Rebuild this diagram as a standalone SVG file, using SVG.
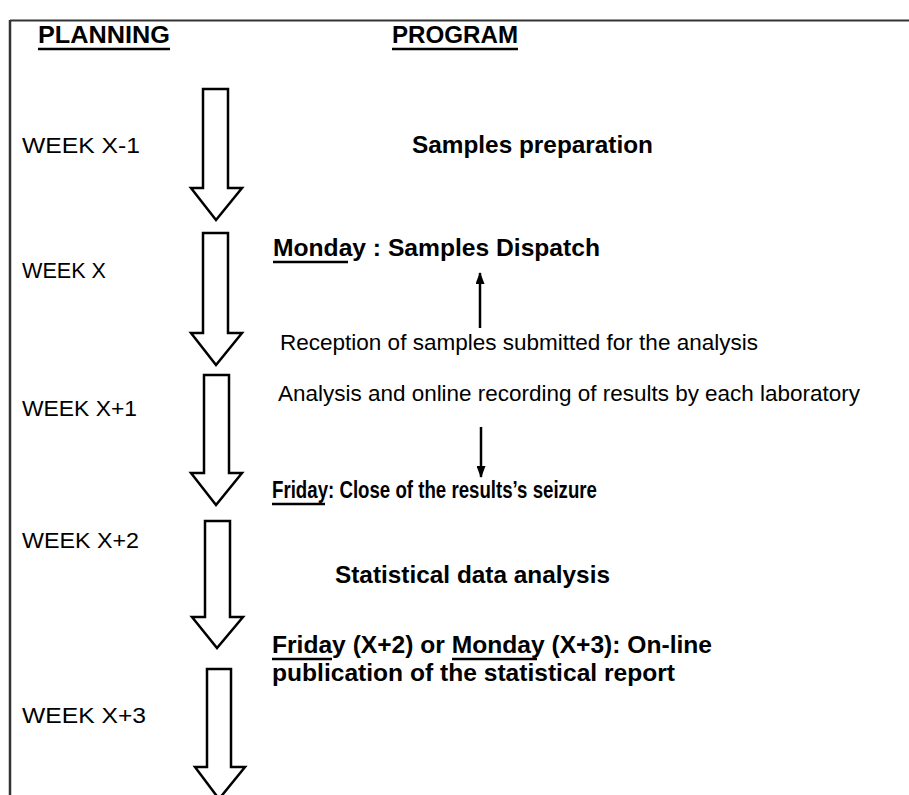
<svg xmlns="http://www.w3.org/2000/svg" width="909" height="795" viewBox="0 0 909 795">
<defs>
<style>
.bold{font-family:"Liberation Sans",Arial,sans-serif;font-weight:bold;font-size:24px;fill:#000}
.reg{font-family:"Liberation Sans",Arial,sans-serif;font-size:22.5px;fill:#000}
.head{font-family:"Liberation Sans",Arial,sans-serif;font-weight:bold;font-size:24px;fill:#000}
.week{font-family:"Liberation Sans",Arial,sans-serif;font-size:22px;fill:#000}
.blk{fill:#fff;stroke:#000;stroke-width:2.5;stroke-linejoin:miter}
.ul{stroke:#000;stroke-width:2.5}
.conn{stroke:#000;stroke-width:2.5;fill:none}
</style>
<marker id="ah" viewBox="0 0 12 9" refX="11" refY="4.5" markerWidth="12" markerHeight="9" orient="auto" markerUnits="userSpaceOnUse">
<path d="M0,0 L12,4.5 L0,9 Z" fill="#000"/>
</marker>
</defs>
<rect width="909" height="795" fill="#fff"/>
<g id="frame">
<line x1="10" y1="20.5" x2="909" y2="20.5" stroke="#333" stroke-width="2"/>
<line x1="10" y1="20" x2="10" y2="795" stroke="#333" stroke-width="2.5"/>
</g>
<g id="header-planning">
<text class="head" x="38" y="43" textLength="132" lengthAdjust="spacingAndGlyphs">PLANNING</text>
<line class="ul" x1="38" y1="49" x2="170" y2="49"/>
</g>
<g id="header-program">
<text class="head" x="392" y="43" textLength="126" lengthAdjust="spacingAndGlyphs">PROGRAM</text>
<line class="ul" x1="392" y1="49" x2="518" y2="49"/>
</g>
<g id="week-xm1"><text class="week" x="22" y="153" textLength="118" lengthAdjust="spacingAndGlyphs">WEEK X-1</text></g>
<g id="week-x"><text class="week" x="22" y="278" textLength="84" lengthAdjust="spacingAndGlyphs">WEEK X</text></g>
<g id="week-xp1"><text class="week" x="22" y="416" textLength="115" lengthAdjust="spacingAndGlyphs">WEEK X+1</text></g>
<g id="week-xp2"><text class="week" x="22" y="548" textLength="117" lengthAdjust="spacingAndGlyphs">WEEK X+2</text></g>
<g id="week-xp3"><text class="week" x="22" y="723" textLength="124" lengthAdjust="spacingAndGlyphs">WEEK X+3</text></g>
<g id="arrow-1"><polygon class="blk" points="203,89 228,89 228,188 242,188 216,220 191,188 203,188"/></g>
<g id="arrow-2"><polygon class="blk" points="203,233 228,233 228,333 242,333 216,365 191,333 203,333"/></g>
<g id="arrow-3"><polygon class="blk" points="204,375 229,375 229,473 242,473 216,505 191,473 204,473"/></g>
<g id="arrow-4"><polygon class="blk" points="205,521 230,521 230,617 243,617 217,648 192,617 205,617"/></g>
<g id="arrow-5"><polygon class="blk" points="207,669 231,669 231,767 245,767 219,799 195,767 207,767"/></g>
<g id="samples-preparation"><text class="bold" x="412" y="153" textLength="241" lengthAdjust="spacingAndGlyphs">Samples preparation</text></g>
<g id="samples-dispatch">
<text class="bold" x="273" y="256" textLength="327" lengthAdjust="spacingAndGlyphs">Monday : Samples Dispatch</text>
<line class="ul" x1="273" y1="262" x2="348" y2="262"/>
</g>
<g id="reception"><text class="reg" x="280" y="350" textLength="478" lengthAdjust="spacingAndGlyphs">Reception of samples submitted for the analysis</text></g>
<g id="analysis"><text class="reg" x="278" y="401" textLength="582" lengthAdjust="spacingAndGlyphs">Analysis and online recording of results by each laboratory</text></g>
<g id="close-seizure">
<text class="bold" x="272" y="498" textLength="325" lengthAdjust="spacingAndGlyphs">Friday: Close of the results’s seizure</text>
<line class="ul" x1="272" y1="504" x2="325" y2="504"/>
</g>
<g id="statistical-analysis"><text class="bold" x="335" y="583" textLength="275" lengthAdjust="spacingAndGlyphs">Statistical data analysis</text></g>
<g id="publication">
<text class="bold" x="272" y="653" textLength="440" lengthAdjust="spacingAndGlyphs">Friday (X+2) or Monday (X+3): On-line</text>
<line class="ul" x1="272" y1="659" x2="332" y2="659"/>
<line class="ul" x1="452" y1="659" x2="537" y2="659"/>
<text class="bold" x="272" y="681" textLength="403" lengthAdjust="spacingAndGlyphs">publication of the statistical report</text>
</g>
<g id="connectors">
<line class="conn" x1="480" y1="328" x2="480" y2="273" marker-end="url(#ah)"/>
<line class="conn" x1="481" y1="427" x2="481" y2="477" marker-end="url(#ah)"/>
</g>
</svg>
